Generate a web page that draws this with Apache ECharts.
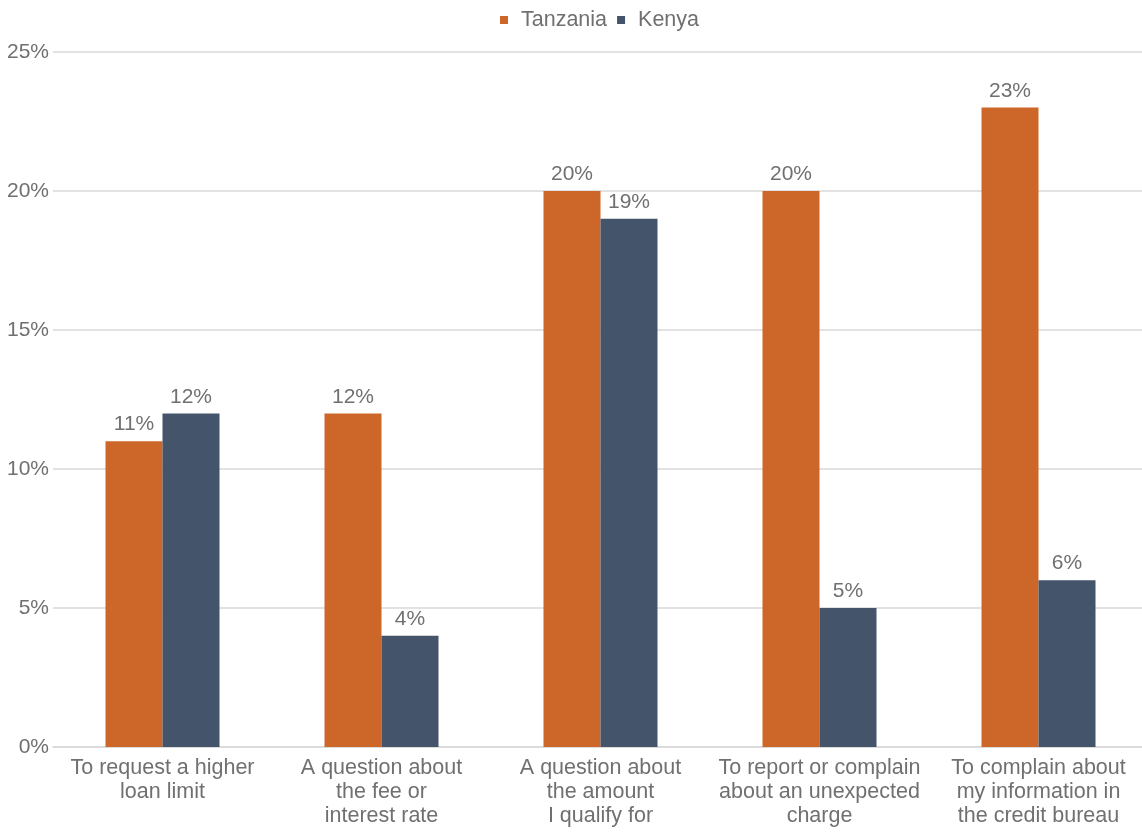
<!DOCTYPE html>
<html><head><meta charset="utf-8">
<script src="https://cdn.jsdelivr.net/npm/echarts@6/dist/echarts.min.js"></script>
<style>html,body{margin:0;padding:0;background:#fff;overflow:hidden;width:1142px;height:834px}#c{width:1148px;height:834px}</style>
</head><body><div id="c"></div>
<script>
const categories = ["To request a higher\nloan limit","A question about\nthe fee or\ninterest rate","A question about\nthe amount\nI qualify for","To report or complain\nabout an unexpected\ncharge","To complain about\nmy information in\nthe credit bureau"];
const tanzania = [11,12,20,20,23];
const kenya = [12,4,19,5,6];
const yTicks = [0,5,10,15,20,25];
const font = "Liberation Sans, Arial, sans-serif";
const txt = "#707070";
const fs = 21;
const chart = echarts.init(document.getElementById('c'));
chart.setOption({
  animation:false,
  textStyle:{fontFamily:font},
  legend:{top:4,left:495,itemWidth:8,itemHeight:8,itemGap:10,icon:'rect',
    textStyle:{fontSize:21.5,color:txt,fontFamily:font,padding:[0,0,0,8]},data:['Tanzania','Kenya']},
  grid:{left:53,right:0,top:52,bottom:87,containLabel:false},
  xAxis:{type:'category',data:categories,
    axisLine:{lineStyle:{color:'#d9d9d9',width:1.5}},axisTick:{show:false},
    axisLabel:{fontSize:21.5,color:txt,lineHeight:24,margin:9,interval:0,fontFamily:font}},
  yAxis:{type:'value',min:yTicks[0],max:yTicks[yTicks.length-1],interval:5,
    axisLabel:{formatter:v=>v+'%',fontSize:fs,color:txt,margin:4,fontFamily:font},
    splitLine:{lineStyle:{color:'#d9d9d9',width:1.5}},axisLine:{show:false},axisTick:{show:false}},
  series:[
    {name:'Tanzania',type:'bar',data:tanzania,barWidth:57,barGap:'0%',itemStyle:{color:'#CC6629'},
     label:{show:true,position:'top',formatter:'{c}%',fontSize:fs,color:txt,distance:6,fontFamily:font}},
    {name:'Kenya',type:'bar',data:kenya,barWidth:57,barGap:'0%',itemStyle:{color:'#44546A'},
     label:{show:true,position:'top',formatter:'{c}%',fontSize:fs,color:txt,distance:6,fontFamily:font}}
  ]
});
</script></body></html>
